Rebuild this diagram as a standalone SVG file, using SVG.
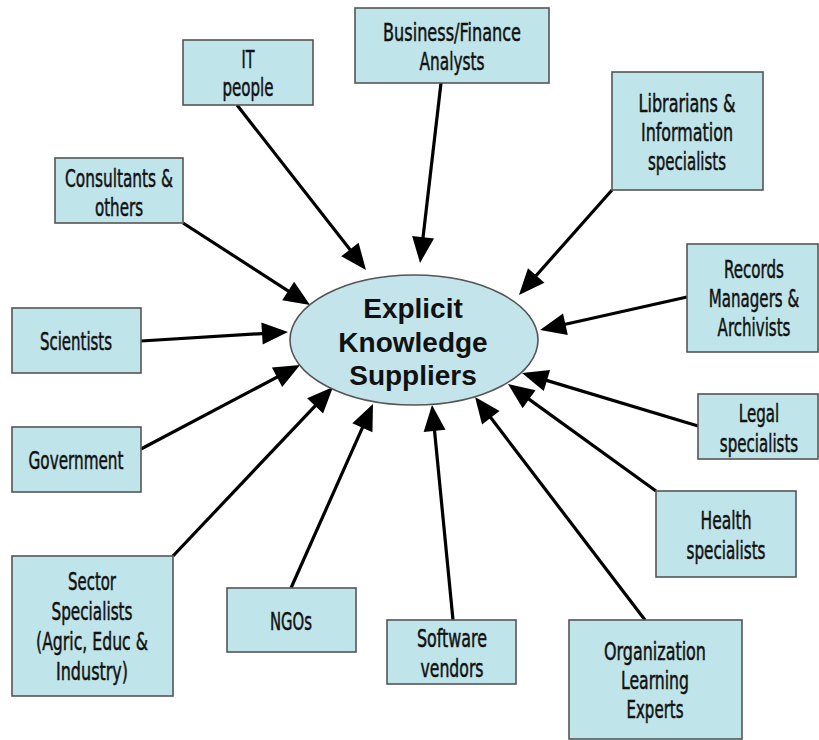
<svg xmlns="http://www.w3.org/2000/svg" width="819" height="740" viewBox="0 0 819 740">
<style>
.box{fill:#bfe4ea;stroke:#555;stroke-width:1.6}
.t{font-family:"DejaVu Sans Condensed","DejaVu Sans",sans-serif;font-stretch:condensed;font-size:25px;fill:#111;stroke:#111;stroke-width:0.5;text-anchor:middle}
.c{font-family:"Liberation Sans",Arial,sans-serif;font-weight:bold;font-size:28px;fill:#111;text-anchor:middle}
.a{stroke:#000;stroke-width:3.2;fill:none;marker-end:url(#ah)}
</style>
<defs>
<marker id="ah" markerUnits="userSpaceOnUse" markerWidth="26" markerHeight="22" refX="16" refY="11" orient="auto" overflow="visible">
<path d="M0,0 L26,11 L0,22 Z" fill="#000"/>
</marker>
</defs>
<rect width="819" height="740" fill="#fff"/>
<g id="connectors">
<line class="a" x1="237" y1="105" x2="359.8" y2="262.1"/>
<line class="a" x1="183" y1="223" x2="301.6" y2="299.6"/>
<line class="a" x1="441" y1="83" x2="421.2" y2="253.1"/>
<line class="a" x1="612" y1="190" x2="525.6" y2="287.5"/>
<line class="a" x1="687" y1="297" x2="549.8" y2="327.8"/>
<line class="a" x1="141" y1="341" x2="278.0" y2="332.6"/>
<line class="a" x1="141" y1="449" x2="291.2" y2="369.7"/>
<line class="a" x1="173" y1="556" x2="326.1" y2="394.3"/>
<line class="a" x1="291" y1="588" x2="368.9" y2="413.1"/>
<line class="a" x1="453" y1="620" x2="433.0" y2="415.0"/>
<line class="a" x1="645" y1="620" x2="481.1" y2="405.0"/>
<line class="a" x1="656" y1="491" x2="516.1" y2="389.9"/>
<line class="a" x1="698" y1="426" x2="531.6" y2="375.9"/>
</g>
<g id="center">
<ellipse cx="414" cy="340" rx="124" ry="65" fill="#c2e4ea" stroke="#555" stroke-width="1.6"/>
<text class="c" x="413" y="318">Explicit</text>
<text class="c" x="413" y="352">Knowledge</text>
<text class="c" x="413" y="385">Suppliers</text>
</g>
<g id="it">
<rect class="box" x="183" y="40" width="130" height="65"/>
<text class="t" x="248" y="68" textLength="13" lengthAdjust="spacingAndGlyphs">IT</text>
<text class="t" x="248" y="96" textLength="51" lengthAdjust="spacingAndGlyphs">people</text>
</g>
<g id="consultants">
<rect class="box" x="55" y="158" width="128" height="65"/>
<text class="t" x="119" y="187" textLength="108" lengthAdjust="spacingAndGlyphs">Consultants &amp;</text>
<text class="t" x="119" y="216" textLength="48" lengthAdjust="spacingAndGlyphs">others</text>
</g>
<g id="business">
<rect class="box" x="355" y="8" width="194" height="75"/>
<text class="t" x="452" y="41" textLength="138" lengthAdjust="spacingAndGlyphs">Business/Finance</text>
<text class="t" x="452" y="70" textLength="65" lengthAdjust="spacingAndGlyphs">Analysts</text>
</g>
<g id="librarians">
<rect class="box" x="612" y="72" width="151" height="118"/>
<text class="t" x="687" y="112" textLength="97" lengthAdjust="spacingAndGlyphs">Librarians &amp;</text>
<text class="t" x="687" y="141" textLength="92" lengthAdjust="spacingAndGlyphs">Information</text>
<text class="t" x="687" y="170" textLength="78" lengthAdjust="spacingAndGlyphs">specialists</text>
</g>
<g id="records">
<rect class="box" x="687" y="244" width="131" height="108"/>
<g transform="translate(754,0) scale(0.67,1)">
<text class="t" x="0" y="278">Records</text>
<text class="t" x="0" y="307">Managers &amp;</text>
<text class="t" x="0" y="336">Archivists</text>
</g>
</g>
<g id="scientists">
<rect class="box" x="12" y="308" width="129" height="65"/>
<text class="t" x="76" y="350" textLength="72" lengthAdjust="spacingAndGlyphs">Scientists</text>
</g>
<g id="government">
<rect class="box" x="12" y="427" width="129" height="65"/>
<text class="t" x="76" y="469" textLength="95" lengthAdjust="spacingAndGlyphs">Government</text>
</g>
<g id="sector">
<rect class="box" x="12" y="556" width="161" height="140"/>
<text class="t" x="92" y="590" textLength="48" lengthAdjust="spacingAndGlyphs">Sector</text>
<text class="t" x="92" y="620" textLength="81" lengthAdjust="spacingAndGlyphs">Specialists</text>
<text class="t" x="92" y="650" textLength="112" lengthAdjust="spacingAndGlyphs">(Agric, Educ &amp;</text>
<text class="t" x="92" y="680" textLength="72" lengthAdjust="spacingAndGlyphs">Industry)</text>
</g>
<g id="ngos">
<rect class="box" x="227" y="588" width="129" height="64"/>
<text class="t" x="291" y="630" textLength="42" lengthAdjust="spacingAndGlyphs">NGOs</text>
</g>
<g id="software">
<rect class="box" x="387" y="620" width="129" height="64"/>
<text class="t" x="452" y="647" textLength="70" lengthAdjust="spacingAndGlyphs">Software</text>
<text class="t" x="452" y="677" textLength="63" lengthAdjust="spacingAndGlyphs">vendors</text>
</g>
<g id="organization">
<rect class="box" x="569" y="620" width="173" height="119"/>
<text class="t" x="655" y="660" textLength="102" lengthAdjust="spacingAndGlyphs">Organization</text>
<text class="t" x="655" y="689" textLength="68" lengthAdjust="spacingAndGlyphs">Learning</text>
<text class="t" x="655" y="718" textLength="57" lengthAdjust="spacingAndGlyphs">Experts</text>
</g>
<g id="health">
<rect class="box" x="656" y="491" width="140" height="86"/>
<text class="t" x="726" y="529" textLength="51" lengthAdjust="spacingAndGlyphs">Health</text>
<text class="t" x="726" y="559" textLength="79" lengthAdjust="spacingAndGlyphs">specialists</text>
</g>
<g id="legal">
<rect class="box" x="698" y="394" width="120" height="65"/>
<g transform="translate(759,0) scale(0.67,1)">
<text class="t" x="0" y="422">Legal</text>
<text class="t" x="0" y="452">specialists</text>
</g>
</g>
</svg>
